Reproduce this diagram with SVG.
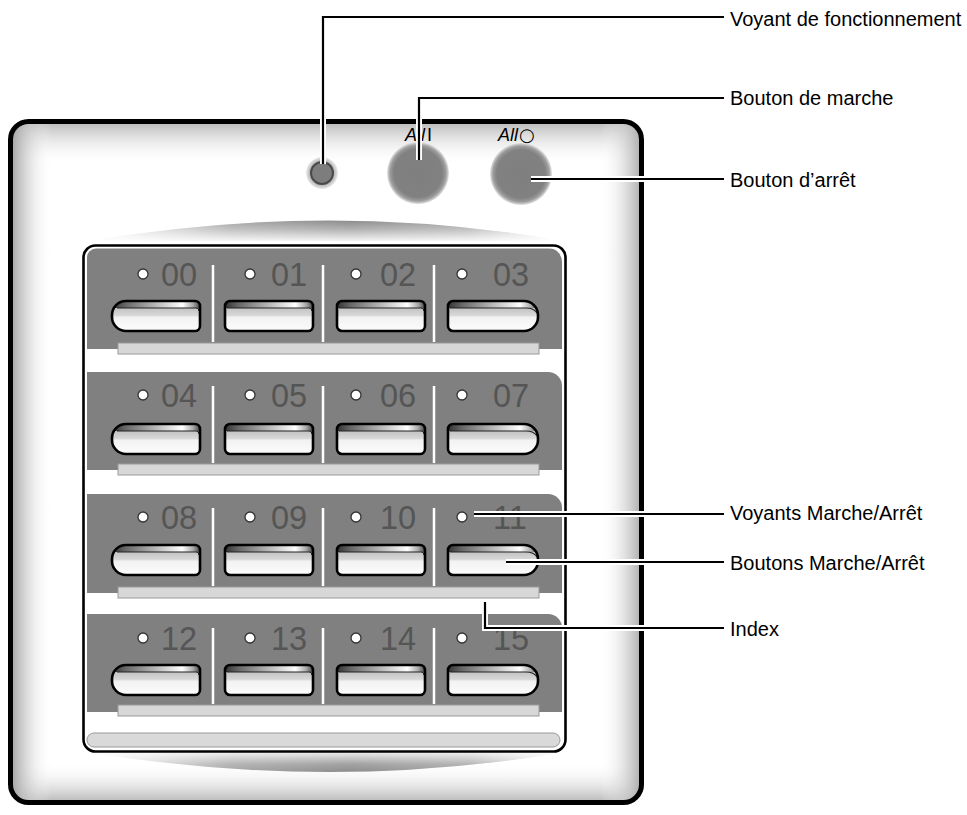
<svg xmlns="http://www.w3.org/2000/svg" xmlns:xlink="http://www.w3.org/1999/xlink" width="967" height="815" viewBox="0 0 967 815">
<defs>
<style>
.lbl{font-family:"Liberation Sans",Arial,Helvetica,sans-serif;font-size:20px;fill:#000}
.num{font-family:"Liberation Sans",Arial,Helvetica,sans-serif;font-size:32.5px;fill:#555}
.all{font-family:"Liberation Sans",Arial,Helvetica,sans-serif;font-size:18px;fill:#000}
.sym{font-family:"DejaVu Sans",sans-serif;font-style:normal}
.led{fill:#fff;stroke:#333;stroke-width:1.3}
.div{stroke:#fff;stroke-width:2.5}
.row{fill:#808080}
.strip{fill:#d7d7d7;stroke:#9a9a9a;stroke-width:1}
.halo{fill:none;stroke:#fff;stroke-width:6}
.lead{fill:none;stroke:#000;stroke-width:2.2}
.bo{fill:none;stroke:#000;stroke-width:2.6;stroke-linejoin:round}
.lipline{fill:none;stroke:#222;stroke-width:1.2}
</style>
<clipPath id="frameClip"><rect x="10.5" y="121.5" width="631" height="681" rx="18"/></clipPath>
<clipPath id="panelClip"><rect x="87" y="248.5" width="475" height="500" rx="9"/></clipPath>
<linearGradient id="gTop" x1="0" y1="0" x2="0" y2="1"><stop offset="0" stop-color="#b4b4b4"/><stop offset="1" stop-color="#fff" stop-opacity="0"/></linearGradient>
<linearGradient id="gBot" x1="0" y1="1" x2="0" y2="0"><stop offset="0" stop-color="#b0b0b0"/><stop offset="1" stop-color="#fff" stop-opacity="0"/></linearGradient>
<linearGradient id="gLeft" x1="0" y1="0" x2="1" y2="0"><stop offset="0" stop-color="#9c9c9c"/><stop offset="1" stop-color="#fff" stop-opacity="0"/></linearGradient>
<linearGradient id="gRight" x1="1" y1="0" x2="0" y2="0"><stop offset="0" stop-color="#a8a8a8"/><stop offset="1" stop-color="#fff" stop-opacity="0"/></linearGradient>
<linearGradient id="gShadeH" x1="0" y1="0" x2="1" y2="0"><stop offset="0" stop-color="#fff"/><stop offset="0.3" stop-color="#a4a4a4"/><stop offset="0.55" stop-color="#8c8c8c"/><stop offset="0.8" stop-color="#a4a4a4"/><stop offset="1" stop-color="#fff"/></linearGradient>
<linearGradient id="gFadeTop" x1="0" y1="0" x2="0" y2="1"><stop offset="0" stop-color="#fff" stop-opacity="0"/><stop offset="0.45" stop-color="#fff" stop-opacity="0.35"/><stop offset="1" stop-color="#fff" stop-opacity="0.9"/></linearGradient>
<linearGradient id="gFadeBot" x1="0" y1="0" x2="0" y2="1"><stop offset="0" stop-color="#fff" stop-opacity="0.85"/><stop offset="0.6" stop-color="#fff" stop-opacity="0.2"/><stop offset="1" stop-color="#fff" stop-opacity="0"/></linearGradient>
<radialGradient id="bigBtn" cx="0.5" cy="0.5" r="0.5"><stop offset="0" stop-color="#7f7f7f"/><stop offset="0.78" stop-color="#818181"/><stop offset="0.9" stop-color="#9c9c9c"/><stop offset="1" stop-color="#e2e2e2"/></radialGradient>
<radialGradient id="ledGlow" cx="0.5" cy="0.5" r="0.5"><stop offset="0" stop-color="#999"/><stop offset="0.7" stop-color="#ababab"/><stop offset="1" stop-color="#ececec"/></radialGradient>
<linearGradient id="face" x1="0" y1="0" x2="0" y2="1"><stop offset="0" stop-color="#c4c4c4"/><stop offset="0.3" stop-color="#c8c8c8"/><stop offset="0.48" stop-color="#d8d8d8"/><stop offset="0.54" stop-color="#f2f2f2"/><stop offset="1" stop-color="#fcfcfc"/></linearGradient>
<linearGradient id="lip" x1="0" y1="0" x2="1" y2="0"><stop offset="0" stop-color="#333"/><stop offset="0.15" stop-color="#666"/><stop offset="0.55" stop-color="#c4c4c4"/><stop offset="0.8" stop-color="#fff"/><stop offset="0.92" stop-color="#aaa"/><stop offset="1" stop-color="#444"/></linearGradient>
<clipPath id="cL"><path d="M14,0 H83 A5,5 0 0 1 88,5 V25 A5,5 0 0 1 83,30 H14 A14,14 0 0 1 0,16 V14 A14,14 0 0 1 14,0 Z"/></clipPath>
<clipPath id="cM"><path d="M5,0 H83 A5,5 0 0 1 88,5 V25 A5,5 0 0 1 83,30 H5 A5,5 0 0 1 0,25 V5 A5,5 0 0 1 5,0 Z"/></clipPath>
<clipPath id="cR"><path d="M5,0 H76 A14,14 0 0 1 90,14 V16 A14,14 0 0 1 76,30 H5 A5,5 0 0 1 0,25 V5 A5,5 0 0 1 5,0 Z"/></clipPath>
<g id="btnL">
<path fill="url(#face)" d="M14,0 H83 A5,5 0 0 1 88,5 V25 A5,5 0 0 1 83,30 H14 A14,14 0 0 1 0,16 V14 A14,14 0 0 1 14,0 Z"/>
<rect x="0" y="0" width="88" height="7" fill="url(#lip)" clip-path="url(#cL)"/>
<path class="lipline" d="M5,7 H84 Q87,7 87,10"/>
<path class="bo" d="M14,0 H83 A5,5 0 0 1 88,5 V25 A5,5 0 0 1 83,30 H14 A14,14 0 0 1 0,16 V14 A14,14 0 0 1 14,0 Z"/>
</g>
<g id="btnM">
<path fill="url(#face)" d="M5,0 H83 A5,5 0 0 1 88,5 V25 A5,5 0 0 1 83,30 H5 A5,5 0 0 1 0,25 V5 A5,5 0 0 1 5,0 Z"/>
<rect x="0" y="0" width="88" height="7" fill="url(#lip)" clip-path="url(#cM)"/>
<path class="lipline" d="M2,7 H84 Q87,7 87,10"/>
<path class="bo" d="M5,0 H83 A5,5 0 0 1 88,5 V25 A5,5 0 0 1 83,30 H5 A5,5 0 0 1 0,25 V5 A5,5 0 0 1 5,0 Z"/>
</g>
<g id="btnR">
<path fill="url(#face)" d="M5,0 H76 A14,14 0 0 1 90,14 V16 A14,14 0 0 1 76,30 H5 A5,5 0 0 1 0,25 V5 A5,5 0 0 1 5,0 Z"/>
<rect x="0" y="0" width="90" height="7" fill="url(#lip)" clip-path="url(#cR)"/>
<path class="lipline" d="M2,7 H78 Q86,7 89,12"/>
<path class="bo" d="M5,0 H76 A14,14 0 0 1 90,14 V16 A14,14 0 0 1 76,30 H5 A5,5 0 0 1 0,25 V5 A5,5 0 0 1 5,0 Z"/>
</g>
</defs>

<rect width="967" height="815" fill="#fff"/>

<g id="frame">
<g clip-path="url(#frameClip)">
<rect x="0" y="121" width="660" height="682" fill="#fff"/>
<rect x="0" y="121" width="660" height="44" fill="url(#gTop)"/>
<rect x="0" y="762" width="660" height="42" fill="url(#gBot)"/>
<rect x="10" y="121" width="42" height="682" fill="url(#gLeft)"/>
<rect x="600" y="121" width="42" height="682" fill="url(#gRight)"/>
</g>
<path d="M90,241 Q330,200 562,241 Z" fill="url(#gShadeH)"/>
<path d="M90,241 Q330,200 562,241 Z" fill="url(#gFadeTop)"/>
<path d="M88,752 Q330,792 565,752 Z" fill="url(#gShadeH)"/>
<path d="M88,752 Q330,792 565,752 Z" fill="url(#gFadeBot)"/>
<rect x="10.5" y="121.5" width="631" height="681" rx="18" fill="none" stroke="#000" stroke-width="5"/>
</g>

<g id="status-led">
<circle cx="322" cy="173" r="16" fill="url(#ledGlow)"/>
<circle cx="322" cy="173" r="11" fill="#7d7d7d" stroke="#4a4a4a" stroke-width="2"/>
</g>

<g id="btn-all-on">
<text class="all" x="405" y="141"><tspan font-style="italic">All</tspan><tspan dx="2">I</tspan></text>
<circle cx="418" cy="173" r="31" fill="url(#bigBtn)"/>
</g>

<g id="btn-all-off">
<text class="all" x="498" y="141"><tspan font-style="italic">All</tspan><tspan class="sym" dx="1">○</tspan></text>
<circle cx="521" cy="174" r="31" fill="url(#bigBtn)"/>
</g>

<g id="panel">
<rect x="83.5" y="245.5" width="482" height="506" rx="12" fill="#fff" stroke="#000" stroke-width="2.6"/>
<g clip-path="url(#panelClip)">
<path class="row" d="M87,248 H548 A14,14 0 0 1 562,262 V349 H87 Z"/>
<path class="row" d="M87,372 H548 A14,14 0 0 1 562,386 V470 H87 Z"/>
<path class="row" d="M87,494 H548 A14,14 0 0 1 562,508 V593 H87 Z"/>
<path class="row" d="M87,614 H548 A14,14 0 0 1 562,628 V712 H87 Z"/>
</g>
<rect x="87" y="733" width="473" height="14" rx="7" fill="#d9d9d9" stroke="#9a9a9a" stroke-width="1"/>
</g>

<g id="row-0">
<rect class="strip" x="118" y="343" width="421" height="11"/>
<path class="div" d="M213,265 V342 M323,265 V342 M434,265 V342"/>
<g id="ch-00"><circle class="led" cx="143" cy="274" r="5"/><text class="num" x="161" y="286">00</text><use xlink:href="#btnL" x="112" y="301"/></g>
<g id="ch-01"><circle class="led" cx="250" cy="274" r="5"/><text class="num" x="271" y="286">01</text><use xlink:href="#btnM" x="225" y="301"/></g>
<g id="ch-02"><circle class="led" cx="356" cy="274" r="5"/><text class="num" x="380" y="286">02</text><use xlink:href="#btnM" x="337" y="301"/></g>
<g id="ch-03"><circle class="led" cx="462" cy="274" r="5"/><text class="num" x="493" y="286">03</text><use xlink:href="#btnR" x="448" y="301"/></g>
</g>

<g id="row-1">
<rect class="strip" x="118" y="464" width="421" height="11"/>
<path class="div" d="M213,386 V463 M323,386 V463 M434,386 V463"/>
<g id="ch-04"><circle class="led" cx="143" cy="395" r="5"/><text class="num" x="161" y="407">04</text><use xlink:href="#btnL" x="112" y="424"/></g>
<g id="ch-05"><circle class="led" cx="250" cy="395" r="5"/><text class="num" x="271" y="407">05</text><use xlink:href="#btnM" x="225" y="424"/></g>
<g id="ch-06"><circle class="led" cx="356" cy="395" r="5"/><text class="num" x="380" y="407">06</text><use xlink:href="#btnM" x="337" y="424"/></g>
<g id="ch-07"><circle class="led" cx="462" cy="395" r="5"/><text class="num" x="493" y="407">07</text><use xlink:href="#btnR" x="448" y="424"/></g>
</g>

<g id="row-2">
<rect class="strip" x="118" y="587" width="421" height="11"/>
<path class="div" d="M213,508 V586 M323,508 V586 M434,508 V586"/>
<g id="ch-08"><circle class="led" cx="143" cy="517" r="5"/><text class="num" x="161" y="529">08</text><use xlink:href="#btnL" x="112" y="545"/></g>
<g id="ch-09"><circle class="led" cx="250" cy="517" r="5"/><text class="num" x="271" y="529">09</text><use xlink:href="#btnM" x="225" y="545"/></g>
<g id="ch-10"><circle class="led" cx="356" cy="517" r="5"/><text class="num" x="380" y="529">10</text><use xlink:href="#btnM" x="337" y="545"/></g>
<g id="ch-11"><circle class="led" cx="462" cy="517" r="5"/><text class="num" x="493" y="529">11</text><use xlink:href="#btnR" x="448" y="545"/></g>
</g>

<g id="row-3">
<rect class="strip" x="118" y="705" width="421" height="11"/>
<path class="div" d="M213,628 V704 M323,628 V704 M434,628 V704"/>
<g id="ch-12"><circle class="led" cx="143" cy="638" r="5"/><text class="num" x="161" y="650">12</text><use xlink:href="#btnL" x="112" y="665"/></g>
<g id="ch-13"><circle class="led" cx="250" cy="638" r="5"/><text class="num" x="271" y="650">13</text><use xlink:href="#btnM" x="225" y="665"/></g>
<g id="ch-14"><circle class="led" cx="356" cy="638" r="5"/><text class="num" x="380" y="650">14</text><use xlink:href="#btnM" x="337" y="665"/></g>
<g id="ch-15"><circle class="led" cx="462" cy="638" r="5"/><text class="num" x="493" y="650">15</text><use xlink:href="#btnR" x="448" y="665"/></g>
</g>

<g id="connectors">
<path class="halo" d="M323,164 V17 H724 M419,160 V98 H724 M531,179 H724 M474,514 H724 M506,562 H724 M485,602 V628 H724"/>
<path class="lead" d="M323,164 V17 H724"/>
<path class="lead" d="M419,160 V98 H724"/>
<path class="lead" d="M531,179 H724"/>
<path class="lead" d="M474,514 H724"/>
<path class="lead" d="M506,562 H724"/>
<path class="lead" d="M485,602 V628 H724"/>
</g>

<g id="labels">
<text class="lbl" x="730" y="26">Voyant de fonctionnement</text>
<text class="lbl" x="730" y="105">Bouton de marche</text>
<text class="lbl" x="730" y="187">Bouton d’arrêt</text>
<text class="lbl" x="730" y="520">Voyants Marche/Arrêt</text>
<text class="lbl" x="730" y="570">Boutons Marche/Arrêt</text>
<text class="lbl" x="730" y="636">Index</text>
</g>
</svg>
